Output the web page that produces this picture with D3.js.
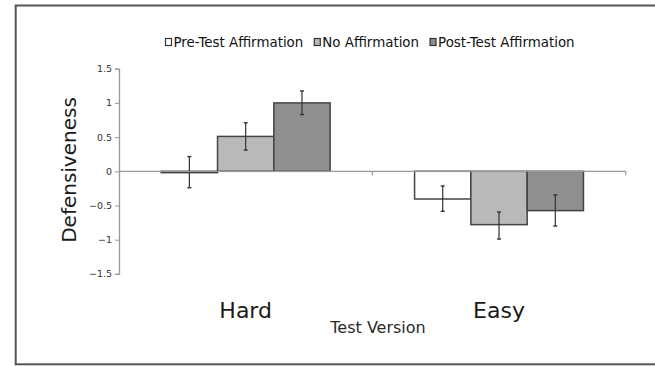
<!DOCTYPE html>
<html>
<head>
<meta charset="utf-8">
<script src="https://cdn.jsdelivr.net/npm/d3@7"></script>
<style>
html,body{margin:0;padding:0;background:#fff;}
svg{display:block;}
text{font-family:"DejaVu Sans",Verdana,sans-serif;}
</style>
</head>
<body>
<svg id="chart" width="655" height="366"></svg>
<script>
// ---- data ----
const categories = ["Hard", "Easy"];
const seriesNames = ["Pre-Test Affirmation", "No Affirmation", "Post-Test Affirmation"];
const preTest  = [-0.02, -0.405];
const noAff    = [0.51, -0.78];
const postTest = [1.0, -0.575];
const preTestErrHigh  = [0.215, -0.215];
const preTestErrLow   = [-0.24, -0.585];
const noAffErrHigh    = [0.71, -0.595];
const noAffErrLow     = [0.31, -0.99];
const postTestErrHigh = [1.175, -0.345];
const postTestErrLow  = [0.83, -0.80];
const yTicks = [-1.5, -1, -0.5, 0, 0.5, 1, 1.5];
const seriesColors = ["#ffffff", "#b9b9b9", "#8f8f8f"];

const seriesValues = [preTest, noAff, postTest];
const seriesHigh = [preTestErrHigh, noAffErrHigh, postTestErrHigh];
const seriesLow = [preTestErrLow, noAffErrLow, postTestErrLow];

const svg = d3.select("#chart");

// frame
svg.append("rect")
  .attr("x", 15.7).attr("y", 5.5)
  .attr("width", 700).attr("height", 358.8)
  .attr("fill", "none").attr("stroke", "#555").attr("stroke-width", 2);

const x0 = d3.scaleBand().domain(categories).range([119, 625.7]).padding(0);
const bw = x0.bandwidth();
const x1 = d3.scaleBand().domain(seriesNames).range([bw / 6, bw * 5 / 6]).padding(0);
const y = d3.scaleLinear().domain([-1.5, 1.5]).range([273.9, 68.7]);

// y axis
const yAxis = d3.axisLeft(y).tickValues(yTicks).tickSize(4).tickPadding(3)
  .tickFormat(d => d === 0 ? "0" : d3.format("")(d).replace("-", "\u2212"));
const gy = svg.append("g").attr("transform", "translate(119,0)").call(yAxis);
gy.select(".domain").attr("stroke", "#999").attr("stroke-width", 1.3);
gy.selectAll(".tick line").attr("stroke", "#999");
gy.selectAll(".tick text").attr("fill", "#333").style("font-size", "9.5px");

// bars
const groups = svg.append("g").selectAll("g.cat")
  .data(categories).join("g")
  .attr("class", "cat")
  .attr("transform", d => `translate(${x0(d)},0)`);

groups.each(function(cat, ci) {
  const g = d3.select(this);
  seriesNames.forEach((s, si) => {
    const v = seriesValues[si][ci];
    g.append("rect")
      .attr("x", x1(s))
      .attr("width", x1.bandwidth())
      .attr("y", y(Math.max(0, v)))
      .attr("height", Math.abs(y(v) - y(0)))
      .attr("fill", seriesColors[si])
      .attr("stroke", "#444")
      .attr("stroke-width", 1.5);
  });
});

// x axis (zero line)
const gx = svg.append("g").attr("transform", `translate(0,${y(0)})`);
gx.append("line")
  .attr("x1", x0.range()[0]).attr("x2", x0.range()[1])
  .attr("stroke", "#999").attr("stroke-width", 1.3);
gx.selectAll("line.tk")
  .data(categories.slice(1).map(c => x0(c)).concat([x0.range()[1]]))
  .join("line").attr("class", "tk")
  .attr("x1", d => d).attr("x2", d => d)
  .attr("y1", 0).attr("y2", 4)
  .attr("stroke", "#999").attr("stroke-width", 1.2);

// error bars
groups.each(function(cat, ci) {
  const g = d3.select(this);
  seriesNames.forEach((s, si) => {
    const cx = x1(s) + x1.bandwidth() / 2;
    const hi = y(seriesHigh[si][ci]);
    const lo = y(seriesLow[si][ci]);
    g.append("line").attr("x1", cx).attr("x2", cx).attr("y1", hi).attr("y2", lo)
      .attr("stroke", "#333").attr("stroke-width", 1.2);
    [hi, lo].forEach(yy => {
      g.append("line").attr("x1", cx - 2).attr("x2", cx + 2).attr("y1", yy).attr("y2", yy)
        .attr("stroke", "#333").attr("stroke-width", 1.4);
    });
  });
});

// category labels
svg.append("g").selectAll("text")
  .data(categories).join("text")
  .attr("x", d => x0(d) + bw / 2)
  .attr("y", 317.7)
  .attr("text-anchor", "middle")
  .style("font-size", "22px")
  .attr("fill", "#1a1a1a")
  .text(d => d);

// x title
svg.append("text")
  .attr("x", 378).attr("y", 333.3)
  .attr("text-anchor", "middle")
  .style("font-size", "16px")
  .attr("fill", "#2a2a2a")
  .text("Test Version");

// y title
svg.append("text")
  .attr("transform", "translate(76,170) rotate(-90)")
  .attr("text-anchor", "middle")
  .style("font-size", "20px")
  .attr("fill", "#1a1a1a")
  .text("Defensiveness");

// legend
const legend = svg.append("g");
let lx = 165;
seriesNames.forEach((s, si) => {
  legend.append("rect")
    .attr("x", lx + 0.5).attr("y", 38.5)
    .attr("width", 6).attr("height", 7)
    .attr("fill", seriesColors[si])
    .attr("stroke", "#333").attr("stroke-width", 1.2);
  const t = legend.append("text")
    .attr("x", lx + 8.5).attr("y", 47.3)
    .style("font-size", "13.4px")
    .attr("fill", "#111")
    .text(s);
  lx = lx + 8.5 + t.node().getComputedTextLength() + 10.5;
});
</script>
</body>
</html>
